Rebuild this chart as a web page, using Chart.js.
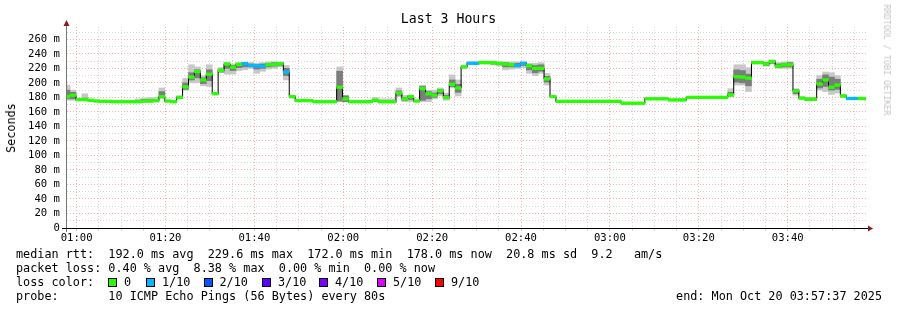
<!DOCTYPE html>
<html><head><meta charset="utf-8">
<script src="https://cdn.jsdelivr.net/npm/chart.js@4.4.1/dist/chart.umd.min.js"></script>
<style>
html,body{margin:0;padding:0;background:#fff;}
#wrap{position:relative;width:897px;height:310px;overflow:hidden;background:#fff;font-family:"DejaVu Sans Mono",monospace;color:#000;}
#c{position:absolute;left:0;top:0;}
.txt{position:absolute;white-space:pre;font-size:11.8px;line-height:14px;}
.sq{position:absolute;width:9px;height:9px;box-sizing:border-box;border:1px solid #000;}
</style></head><body>
<div id="wrap">
<canvas id="c" width="897" height="310"></canvas>
<div id="title" class="txt" style="left:0;width:897px;text-align:center;top:11px;font-size:13.2px;line-height:16px;">Last 3 Hours</div>
<div id="ylab" class="txt" style="left:11px;top:128px;transform:translate(-50%,-50%) rotate(-90deg);">Seconds</div>
<div id="wm" class="txt" style="left:887px;top:60px;transform:translate(-50%,-50%) rotate(90deg);font-size:8.4px;line-height:10px;color:#c4c4c4;">RRDTOOL / TOBI OETIKER</div>
<div id="legend"></div>
</div>
<script>
// ---- time axis (seconds after midnight) ----
const START = 3457;            // 00:57:37
const END = 14257;             // 03:57:37
const FIRST_SAMPLE = 3431;     // first 80 s sample
const STEP = 80;

// ---- median rtt per sample (ms) ----
const median = [
181,183,177,177,176,175,174.5,174.5,174,174,
174,174,174,175,175,175.5,181,175,174,180,
194.5,208,215.5,204,212,185,217,226,221.5,225.5,
226.5,224,223.5,223,225,225.5,226.5,215,181,175.6,
175.6,175.6,174,174,174,174,194,178,174,174,
174,174,176,174,174,174,186,178,181,175,
192,185,183,189,180,198,193,222,227,227,
228,228,227.5,227,226,225,224,227,223.5,220,
220,205.5,181,174.5,174.5,174.5,174.5,174.5,174.5,174.5,
174.5,174.5,174.5,174.5,172,172,172,172,178,178,
178,178,176.5,176.5,176.5,180,180,180,180,180,
180,180,183.5,208.5,208,206.5,228,228,226,229.6,
223,225,225,189,179,177.5,177.5,198.5,204,194,
197,182,178.5,178.5,178.5,178
];
// ---- packet loss per sample (pings lost out of 10) ----
const lossTenths = [
0,0,0,0,0,0,0,0,0,0,
0,0,0,0,0,0,0,0,0,0,
0,0,0,0,0,0,0,0,0,0,
1,1,1,1,0,0,0,1,0,0,
0,0,0,0,0,0,0,0,0,0,
0,0,0,0,0,0,0,0,0,0,
0,0,0,0,0,0,0,0,1,1,
0,0,0,0,0,0,1,1,0,0,
0,0,0,0,0,0,0,0,0,0,
0,0,0,0,0,0,0,0,0,0,
0,0,0,0,0,0,0,0,0,0,
0,0,0,0,0,0,0,0,0,0,
0,0,0,0,0,0,0,0,0,0,
0,0,1,1,0,0
];
// ---- smoke: outer (light) band ----
const outerLo = [
176,176,176,176,175,174,173,173,173,173,
173,173,173,173,173,174,178,174,173,178,
190,200,200,196,195,184,214,212,212,217,
218,220,213,216,219,220,222,204,179,174,
174,174,173,173,173,173,174,174,173,173,
173,173,174,173,173,173,181,174,174,174,
174,174,178,182,176,193,182,220,226,226,
226,226,225,223,218,219,220,221,213,210,
213,197,180,173,173,173,173,173,173,173,
173,173,173,173,171,171,171,171,177,177,
177,177,175,175,175,179,179,179,179,179,
179,179,181,197,197,188,226,226,223,226,
220,220,220,183,178,176,176,190,188,184,
186,180,177,177,177,177
];
const outerHi = [
197,190,178,185,177,176,176,176,175,175,
175,175,178,179,180,180,193,176,175,182,
206,225,222,210,225,187,221,228,226,228,
228,228,227,228,229,229,229,224,183,177,
177,177,175,175,175,175,222,183,175,175,
175,175,180,178,178,178,193,183,183,176,
197,190,190,193,186,211,204,224,229,229,
230,230,230,229,229,229,229,229,227,227,
228,213,183,176,176,176,176,176,176,176,
176,176,176,176,173,173,173,173,179,179,
179,179,178,178,178,181,181,181,181,181,
181,181,192,225,225,221,230,230,229,231,
228,229,229,192,181,180,180,210,215,214,
210,184,180,180,180,180
];
// ---- smoke: inner (dark) band ----
const innerLo = [
178,178,176,176,175,174,174,174,173,173,
173,173,173,174,174,174,180,174,173,179,
191,204,207,199,203,184,215,220,217,221,
222,222,219,220,222,223,224,210,180,175,
175,175,173,173,173,173,175,174,173,173,
173,173,174,173,173,173,183,176,177,174,
176,178,180,185,178,195,187,221,226,226,
227,227,226,225,222,222,222,224,218,214,
216,201,180,174,174,174,174,174,174,174,
174,174,174,174,171,171,171,171,177,177,
177,177,176,176,176,179,179,179,179,179,
179,179,182,201,200,196,227,227,224,227,
221,222,222,185,178,176,176,193,195,190,
191,181,178,178,178,178
];
const innerHi = [
190,187,178,179,177,176,175,175,175,175,
175,175,176,177,177,177,188,176,175,181,
200,214,218,207,218,186,219,227,224,227,
227,226,225,226,227,228,228,220,182,176,
176,176,175,175,175,175,216,182,175,175,
175,175,177,175,175,175,189,180,182,176,
195,188,186,191,183,204,198,223,228,228,
229,229,229,228,228,227,227,228,225,224,
225,209,182,175,175,175,175,175,175,175,
175,175,175,175,173,173,173,173,179,179,
179,179,177,177,177,181,181,181,181,181,
181,181,187,218,217,212,229,229,228,231,
226,227,228,191,180,179,179,205,211,208,
205,183,179,179,179,179
];

// ---- legend content ----
const lossLevels = [0,1,2,3,4,5,9];
const lossLabels = ['0','1/10','2/10','3/10','4/10','5/10','9/10'];
const lossColors = ['#26ff00','#00b8ff','#0059ff','#5e00ff','#7e00ff','#dd00ff','#ff0000'];
const rttStats = ['192.0 ms avg','229.6 ms max','172.0 ms min','178.0 ms now','20.8 ms sd','9.2   am/s'];
const lossStats = ['0.40 % avg','8.38 % max','0.00 % min','0.00 % now'];
const probeText = '10 ICMP Echo Pings (56 Bytes) every 80s';
const endText = 'end: Mon Oct 20 03:57:37 2025';

// ---- axis ticks ----
const xTicks = []; for (let t = 3600; t <= 14100; t += 300) xTicks.push(t);
const yTicks = []; for (let v = 0; v <= 270; v += 10) yTicks.push(v);

// ---- build legend text ----
(function(){
  const L = document.getElementById('legend');
  function add(text, left, top, extra){
    const d = document.createElement('div'); d.className='txt'; d.textContent=text;
    d.style.left = left+'px'; d.style.top = top+'px'; if (extra) Object.assign(d.style, extra); L.appendChild(d);
  }
  add('median rtt:  ' + rttStats.join('  '), 16, 247);
  add('packet loss: ' + lossStats.join('  '), 16, 261);
  add('loss color:', 16, 275);
  const sqX = [108,146,203.5,262,319,377,435];
  lossLabels.forEach((lab, i) => {
    const s = document.createElement('div'); s.className='sq';
    s.style.left = sqX[i]+'px'; s.style.top='278px'; s.style.background = lossColors[i]; L.appendChild(s);
    add(lab, sqX[i]+16, 275);
  });
  add('probe:       ' + probeText, 16, 289);
  add(endText, 0, 289, {left:'auto', right:'15px'});
})();

function hhmm(v){ const h=Math.floor(v/3600), m=Math.floor((v%3600)/60); return String(h).padStart(2,'0')+':'+String(m).padStart(2,'0'); }
function lossColorOf(l){ const i = lossLevels.indexOf(l); return lossColors[i < 0 ? lossColors.length-1 : i]; }

const centers = median.map((_, i) => FIRST_SAMPLE + STEP * i + STEP / 2);
const MARK = 1.8; // half thickness of the loss-coloured median mark (ms)

const axisArrows = {
  id: 'axisArrows',
  afterDraw(chart){
    const {ctx, chartArea:a} = chart;
    ctx.save();
    const yb = Math.round(a.bottom) + 0.5, xl = Math.round(a.left) + 0.5;
    ctx.lineWidth = 1;
    ctx.strokeStyle = '#777';
    ctx.beginPath(); ctx.moveTo(xl, a.bottom + 4); ctx.lineTo(xl, a.top - 4); ctx.stroke();
    ctx.strokeStyle = '#000';
    ctx.beginPath(); ctx.moveTo(a.left - 4, yb); ctx.lineTo(a.right + 3, yb); ctx.stroke();
    ctx.fillStyle = '#8a1c1c';
    ctx.beginPath(); ctx.moveTo(a.right + 2, yb - 3); ctx.lineTo(a.right + 7, yb); ctx.lineTo(a.right + 2, yb + 3); ctx.closePath(); ctx.fill();
    ctx.beginPath(); ctx.moveTo(xl - 3, a.top - 1); ctx.lineTo(xl, a.top - 7); ctx.lineTo(xl + 3, a.top - 1); ctx.closePath(); ctx.fill();
    ctx.restore();
  }
};

Chart.defaults.font.family = '"DejaVu Sans Mono", monospace';
Chart.defaults.color = '#000';

const barCommon = { type:'bar', grouped:false, barPercentage:1, categoryPercentage:1, borderWidth:0 };

new Chart(document.getElementById('c'), {
  type: 'bar',
  data: {
    datasets: [
      Object.assign({}, barCommon, { label:'smoke outer', order:5, backgroundColor:'#c8c8c8',
        data: centers.map((x, i) => ({x, y:[outerLo[i], outerHi[i]]})) }),
      Object.assign({}, barCommon, { label:'smoke inner', order:4, backgroundColor:'#7c7c7c',
        data: centers.map((x, i) => ({x, y:[innerLo[i], innerHi[i]]})) }),
      { type:'line', label:'median', order:3, stepped:'middle', borderColor:'#000', borderWidth:1,
        pointRadius:0, fill:false, data: centers.map((x, i) => ({x, y:median[i]})) },
      Object.assign({}, barCommon, { label:'median loss colour', order:2,
        backgroundColor: lossTenths.map(lossColorOf),
        data: centers.map((x, i) => ({x, y:[median[i] - MARK, median[i] + MARK]})) })
    ]
  },
  options: {
    responsive:false, animation:false, devicePixelRatio:1,
    layout:{ padding:{ left:0, right:31, top:27, bottom:0 } },
    plugins:{ legend:{display:false}, tooltip:{enabled:false}, title:{display:false} },
    scales:{
      x:{
        type:'linear', min:START, max:END, offset:false,
        afterBuildTicks: s => { s.ticks = xTicks.map(v => ({value:v})); },
        afterFit: s => { s.height = 82; },
        ticks:{ autoSkip:false, maxRotation:0, minRotation:0, padding:1, font:{size:10.6},
          callback: v => (v % 1200 === 0 ? hhmm(v) : '') },
        grid:{ offset:false, lineWidth:1, tickLength:3, drawTicks:true,
          color: c => (c.tick && c.tick.value % 1200 === 0 ? '#f3b0b0' : '#d6d6d6') },
        border:{ display:true, color:'#000', width:1, dash:[1,2] }
      },
      y:{
        type:'linear', min:0, max:277,
        afterBuildTicks: s => { s.ticks = yTicks.map(v => ({value:v})); },
        afterFit: s => { s.width = 66; },
        ticks:{ autoSkip:false, padding:6, font:{size:10.6},
          callback: v => (v === 0 ? '0' : (v % 20 === 0 ? v + ' m' : '')) },
        grid:{ lineWidth:1, drawTicks:false,
          color: c => (c.tick && c.tick.value % 20 === 0 ? '#f3b0b0' : '#d6d6d6') },
        border:{ display:true, color:'#777', width:1, dash:[1,2] }
      }
    }
  },
  plugins:[axisArrows]
});
</script>
</body></html>
